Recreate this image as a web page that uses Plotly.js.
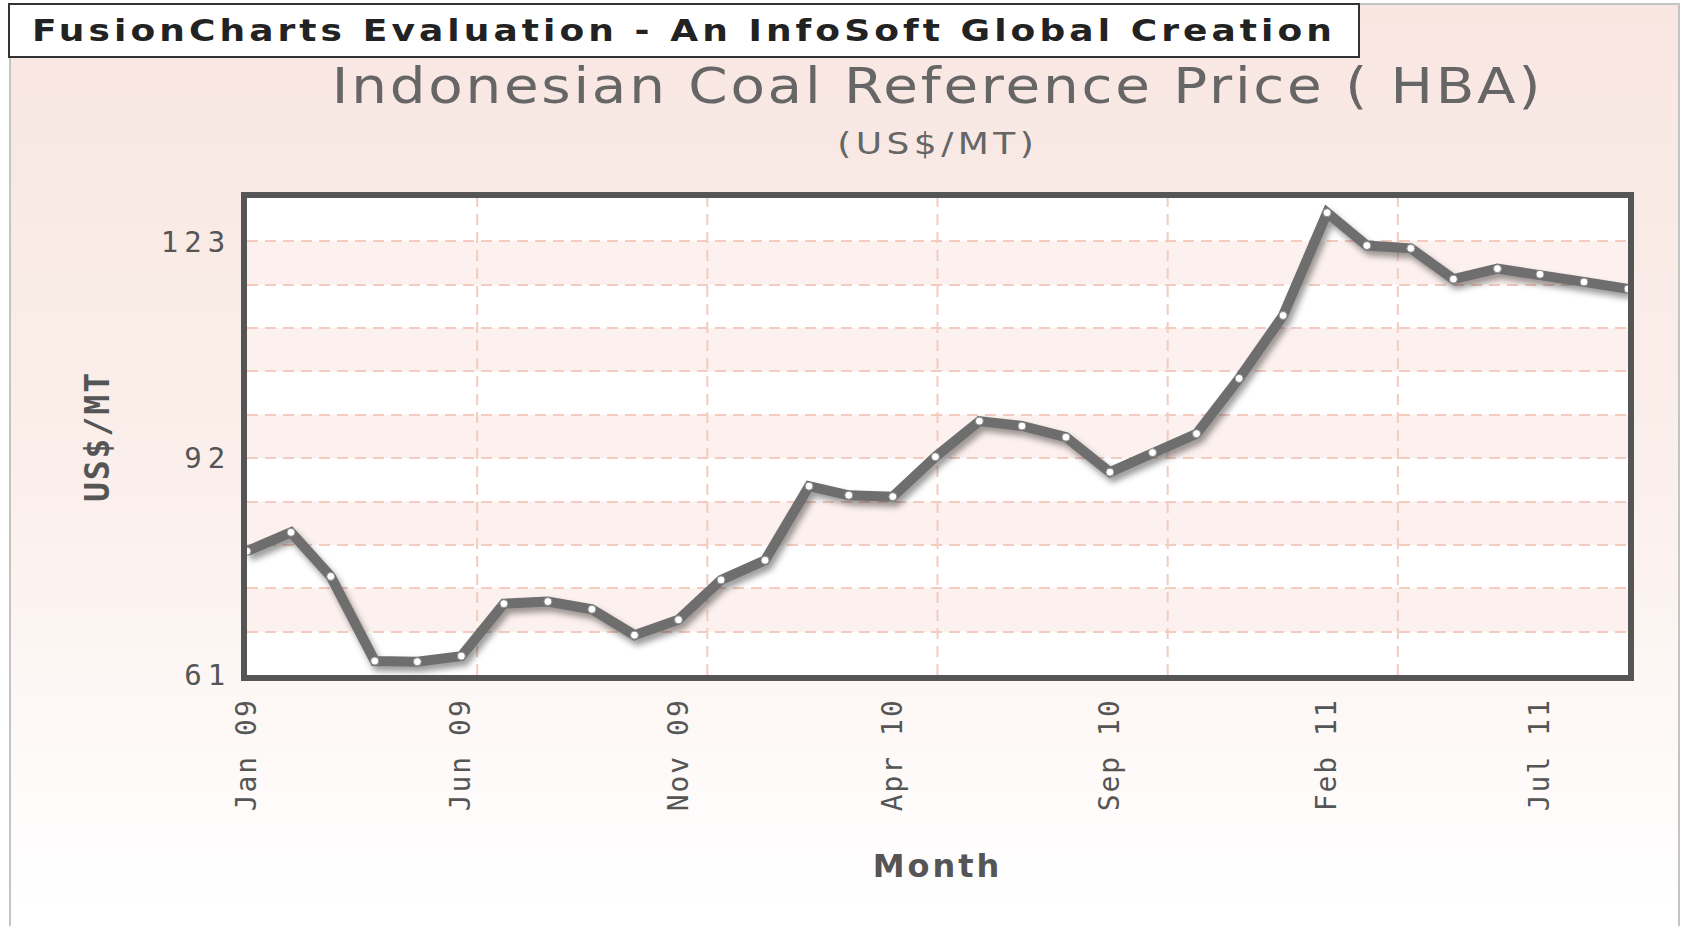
<!DOCTYPE html>
<html>
<head>
<meta charset="utf-8">
<script src="https://cdn.plot.ly/plotly-3.0.1.min.js"></script>
<style>
  html, body { margin: 0; padding: 0; background: #ffffff; width: 1681px; height: 926px; overflow: hidden; }
  #bg { position: absolute; left: 9px; top: 3px; width: 1667px; height: 960px;
        border: 2px solid #C4C4C4; border-bottom: none;
        background: linear-gradient(to bottom, #F8E6E1 0px, #FBF0EC 500px, #FFFFFF 900px); }
  #chart { position: absolute; left: 0; top: 0; width: 1681px; height: 926px; }
  #chart .js-line { filter: drop-shadow(3px 5px 3px rgba(0,0,0,0.4)); }
  #chart text.gtitle { transform-box: fill-box; transform-origin: center; transform: scaleX(1.15); }
  #chart g.annotation text.annotation-text { transform-box: fill-box; transform-origin: center; transform: scaleX(1.2); }
</style>
</head>
<body>
<div id="bg"></div>
<div id="chart"></div>
<script>
// ---- data ----
const months = ["2009-01","2009-02","2009-03","2009-04","2009-05","2009-06","2009-07","2009-08","2009-09","2009-10","2009-11","2009-12",
                "2010-01","2010-02","2010-03","2010-04","2010-05","2010-06","2010-07","2010-08","2010-09","2010-10","2010-11","2010-12",
                "2011-01","2011-02","2011-03","2011-04","2011-05","2011-06","2011-07","2011-08","2011-09"];
const hba = [78.7, 81.4, 75.1, 63.0, 62.9, 63.7, 71.2, 71.5, 70.4, 66.7, 68.9, 74.6,
             77.4, 88.0, 86.7, 86.5, 92.2, 97.3, 96.6, 95.0, 90.0, 92.8, 95.5, 103.4,
             112.4, 127.1, 122.4, 122.0, 117.6, 119.1, 118.3, 117.2, 116.2];
const xTickVals = ["2009-01","2009-06","2009-11","2010-04","2010-09","2011-02","2011-07"];
const xTickText = ["Jan 09","Jun 09","Nov 09","Apr 10","Sep 10","Feb 11","Jul 11"];
const yTickVals = [61, 92, 123];
const yMin = 61, yMax = 129.2, yStep = 6.2;
const vDivisions = 6;

const titleText = "Indonesian Coal Reference Price ( HBA)";
const subtitleText = "(US$/MT)";
const watermarkText = "FusionCharts Evaluation - An InfoSoft Global Creation";
const xTitleText = "Month";
const yTitleText = "US$/MT";

// ---- styling helpers ----
const spaced = (t, px) => '<span style="letter-spacing:' + px + 'px">' + t + '</span>';
const gridColor = "#F4CBBE";
const gridDash = "11px,7px";
const shapes = [];
for (let k = 0; yMin + yStep * k < yMax - 1e-6; k++) {
  if (k % 2 === 1) {
    shapes.push({type: "rect", xref: "paper", yref: "y", x0: 0, x1: 1,
      y0: yMin + yStep * k, y1: yMin + yStep * (k + 1),
      fillcolor: "#FCF1EE", line: {width: 0}, layer: "below"});
  }
}
for (let k = 1; k < vDivisions; k++) {
  shapes.push({type: "line", xref: "paper", yref: "paper", x0: k / vDivisions, x1: k / vDivisions, y0: 0, y1: 1,
    line: {color: gridColor, width: 2, dash: gridDash}, layer: "below"});
}

const trace = {
  x: months, y: hba, type: "scatter", mode: "lines+markers",
  line: {color: "#6E6E6E", width: 10},
  marker: {size: 8, color: "#FFFFFF", line: {color: "#8A8A8A", width: 1}},
  cliponaxis: false, hoverinfo: "x+y"
};

const layout = {
  width: 1681, height: 926,
  margin: {l: 247, r: 53, t: 198, b: 251},
  paper_bgcolor: "rgba(0,0,0,0)",
  plot_bgcolor: "#FFFFFF",
  showlegend: false,
  title: {
    text: spaced(titleText, 2.4),
    font: {family: "DejaVu Sans", size: 49, color: "#666666"},
    xref: "paper", x: 0.5, xanchor: "center",
    yref: "container", y: 1 - 86 / 926, yanchor: "middle"
  },
  xaxis: {
    type: "date",
    range: [months[0], months[months.length - 1]],
    tickvals: xTickVals, ticktext: xTickText.map(t => spaced(t, 2)), tickangle: -90,
    tickfont: {family: "DejaVu Sans Mono", size: 28, color: "#555555"},
    ticks: "", showgrid: false, zeroline: false,
    showline: true, linecolor: "#555555", linewidth: 6, mirror: true,
    ticklabelstandoff: 6,
    title: {text: spaced(xTitleText, 3), font: {family: "DejaVu Sans", size: 32, color: "#555555", weight: "bold"}, standoff: 46}
  },
  yaxis: {
    range: [yMin, yMax],
    tickvals: yTickVals, ticktext: yTickVals.map(v => spaced(String(v), 6)),
    tickfont: {family: "DejaVu Sans Mono", size: 29, color: "#555555"},
    ticks: "", showgrid: true, gridcolor: gridColor, gridwidth: 2, griddash: gridDash,
    zeroline: false,
    minor: {tick0: yMin, dtick: yStep, showgrid: true, gridcolor: gridColor, gridwidth: 2, griddash: gridDash, ticks: ""},
    showline: true, linecolor: "#555555", linewidth: 6, mirror: true,
    ticklabelstandoff: 4,
    title: {text: spaced(yTitleText, 2), font: {family: "DejaVu Sans Mono", size: 33, color: "#555555", weight: "bold"}, standoff: 43}
  },
  shapes: shapes,
  annotations: [
    {text: "<b>" + spaced(watermarkText, 3.4) + "</b>",
     xref: "paper", yref: "paper", x: (684 - 247) / 1381, y: (675 - 30) / 477,
     xanchor: "center", yanchor: "middle", showarrow: false,
     font: {family: "DejaVu Sans", size: 30, color: "#222222"},
     bgcolor: "#FFFFFF", bordercolor: "#333333", borderwidth: 2,
     width: 1346, height: 49},
    {text: spaced(subtitleText, 3.7), xref: "paper", yref: "paper", x: 0.5, y: (675 - 143) / 477,
     xanchor: "center", yanchor: "middle", showarrow: false,
     font: {family: "DejaVu Sans", size: 30, color: "#666666"}}
  ]
};

Plotly.newPlot("chart", [trace], layout, {displayModeBar: false, staticPlot: true});
</script>
</body>
</html>
